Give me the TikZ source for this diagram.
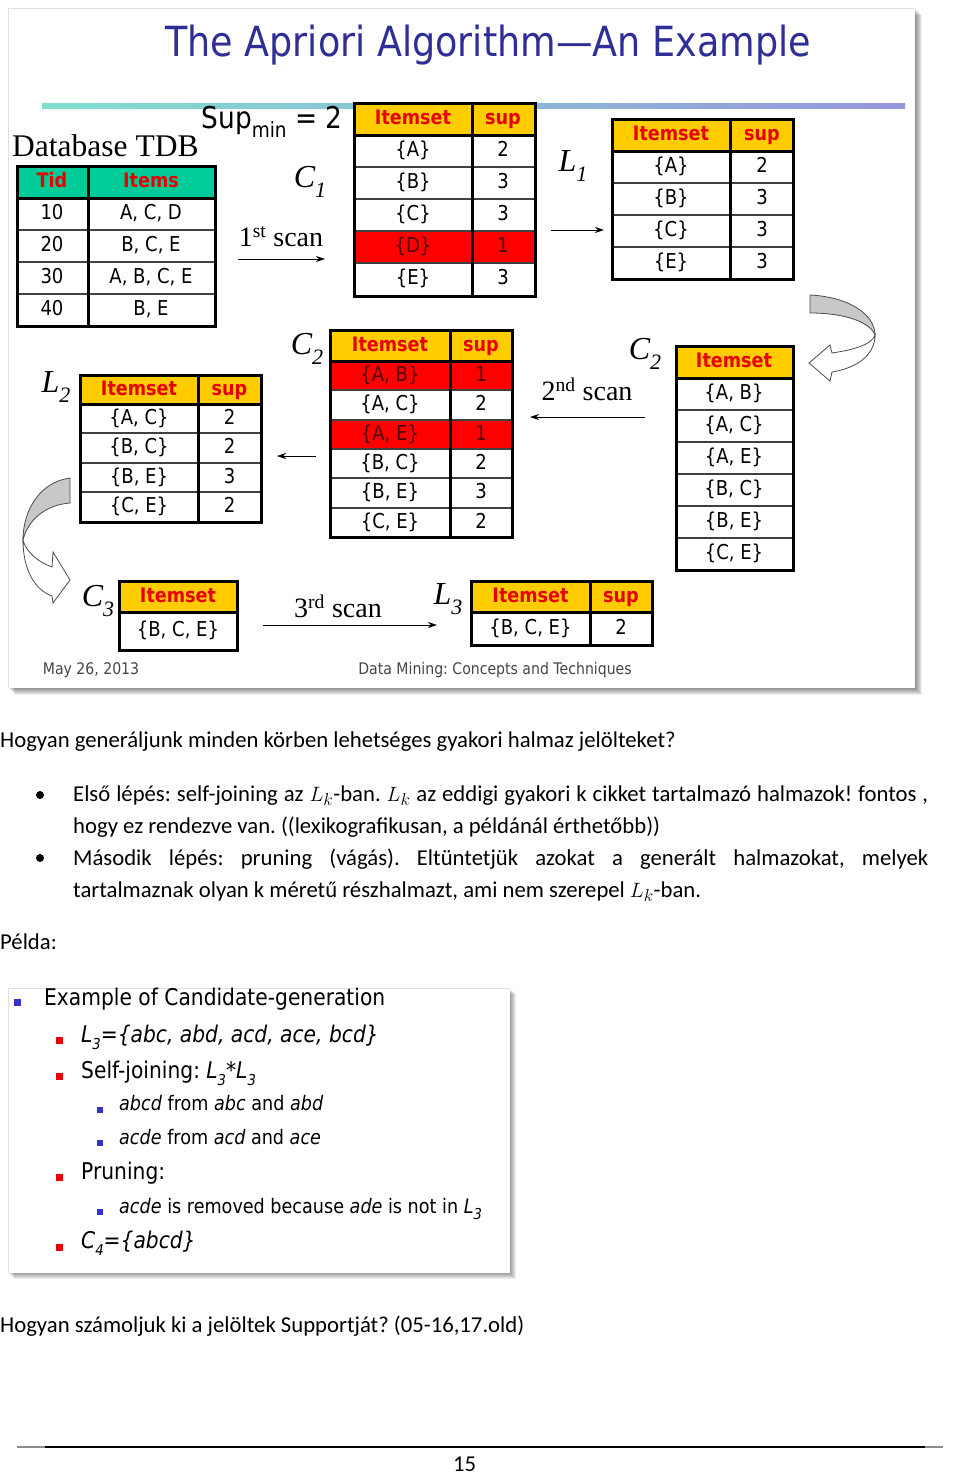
\documentclass[tikz,border=0pt]{standalone}
\usepackage{fontspec}
\setmainfont{Carlito}
\newfontfamily\slf[FakeStretch=0.88]{DejaVu Sans}
\newfontfamily\tnr{Liberation Serif}
\usetikzlibrary{arrows.meta}
\definecolor{titleblue}{RGB}{46,46,150}
\definecolor{gold}{RGB}{255,204,0}
\definecolor{tealhd}{RGB}{0,204,153}
\definecolor{hdred}{RGB}{230,0,0}
\definecolor{redrow}{RGB}{255,0,0}
\definecolor{redtxt}{RGB}{80,0,0}
\definecolor{bulblue}{RGB}{51,51,204}
\definecolor{bulred}{RGB}{230,0,0}
\definecolor{footgray}{RGB}{70,70,70}
\definecolor{linegl}{RGB}{128,224,208}
\definecolor{linegr}{RGB}{150,150,220}
\definecolor{arrowgray}{RGB}{200,200,200}
\newcommand\lab[2]{#1\raisebox{-0.32em}{\fontsize{22}{22}\selectfont #2}}
\newcommand\isub[1]{\raisebox{-0.3em}{\fontsize{15}{15}\selectfont #1}}
\frenchspacing
\tikzset{
 hdr/.style={font=\slf\bfseries\fontsize{20}{22}\selectfont, text=hdred, inner sep=0pt, text height=15pt, text depth=4pt},
 cellt/.style={font=\slf\fontsize{20.5}{22}\selectfont, inner sep=0pt, text height=15pt, text depth=4pt},
 redt/.style={cellt, text=redtxt},
 lbl/.style={font=\tnr\itshape\fontsize{32}{34}\selectfont, inner sep=0pt},
 scan/.style={font=\tnr\fontsize{28}{30}\selectfont, inner sep=0pt},
 thinrule/.style={line width=1.2pt, black!75},
 thickrule/.style={line width=3pt, black},
 scanarrow/.style={-{Stealth[length=9pt,width=6pt]}, line width=1pt},
 body/.style={font=\fontsize{22.7}{27}\selectfont\frenchspacing, inner sep=0pt, anchor=base west},
 s2/.style={font=\slf\fontsize{23}{26}\selectfont\frenchspacing, inner sep=0pt, anchor=mid west},
 s3/.style={font=\slf\fontsize{20}{24}\selectfont\frenchspacing, inner sep=0pt, anchor=mid west},
 foot/.style={font=\slf\fontsize{16}{18}\selectfont\frenchspacing, text=footgray, inner sep=0pt},
}
\begin{document}
\begin{tikzpicture}[x=1pt,y=-1pt]
\useasboundingbox (0,0) rectangle (960,1475);
\fill[white] (0,0) rectangle (960,1475);
% ---------- slide 1 frame ----------
\foreach \i in {1,...,7} \fill[black,opacity=0.07] (8+\i,8+\i) rectangle (915+\i,688+\i);
\fill[white] (8,8) rectangle (915,688);
\draw[black!12, line width=0.8pt] (8,688) -- (8,8) -- (915,8);
\node[font=\slf\fontsize{41.5}{45}\selectfont, text=titleblue, inner sep=0pt] (title) at (488,45) {The Apriori Algorithm—An Example};
\shade[left color=linegl, right color=linegr] (42,103) rectangle (905,108);
\node[font=\tnr\fontsize{31.5}{33}\selectfont, inner sep=0pt, anchor=west] (tdbl) at (12,146) {Database TDB};
\node[font=\slf\fontsize{30}{32}\selectfont, inner sep=0pt] (supmin) at (272,122) {Sup\raisebox{-0.3em}{\fontsize{21}{21}\selectfont min} = 2};
% ---------- TDB ----------
\fill[tealhd] (17,166) rectangle (215,198);
\foreach \y in {230,262,294} \draw[thinrule] (17,\y) -- (215,\y);
\draw[thickrule] (17,198) -- (215,198);
\draw[thickrule] (88,166) -- (88,326);
\draw[thickrule] (17,166) rectangle (215,326);
\node[hdr] (tdbh1) at (52,182) {Tid};
\node[hdr] (tdbh2) at (151,182) {Items};
\node[cellt] (tdb11) at (52,214) {10};  \node[cellt] (tdb12) at (151,214) {A, C, D};
\node[cellt] (tdb21) at (52,246) {20};  \node[cellt] (tdb22) at (151,246) {B, C, E};
\node[cellt] (tdb31) at (52,278) {30};  \node[cellt] (tdb32) at (151,278) {A, B, C, E};
\node[cellt] (tdb41) at (52,310) {40};  \node[cellt] (tdb42) at (151,310) {B, E};
% ---------- C1 ----------
\fill[gold] (354,103) rectangle (535,135);
\fill[redrow] (354,231) rectangle (535,263);
\foreach \y in {167,199,231,263} \draw[thinrule] (354,\y) -- (535,\y);
\draw[thickrule] (354,135) -- (535,135);
\draw[thickrule] (472,103) -- (472,296);
\draw[thickrule] (354,103) rectangle (535,296);
\node[hdr] (c1h1) at (413,119) {Itemset}; \node[hdr] (c1h2) at (503,119) {sup};
\node[cellt] (c1a) at (413,151) {\{A\}}; \node[cellt] (c1as) at (503,151) {2};
\node[cellt] (c1b) at (413,183) {\{B\}}; \node[cellt] (c1bs) at (503,183) {3};
\node[cellt] (c1c) at (413,215) {\{C\}}; \node[cellt] (c1cs) at (503,215) {3};
\node[redt] (c1d) at (413,247) {\{D\}}; \node[redt] (c1ds) at (503,247) {1};
\node[cellt] (c1e) at (413,279) {\{E\}}; \node[cellt] (c1es) at (503,279) {3};
\node[lbl] (c1l) at (310,182) {\lab{C}{1}};
\node[scan] (scan1) at (281,237) {1\textsuperscript{st} scan};
\coordinate (s1a) at (238,259); \coordinate (s1b) at (325,259);
\draw[scanarrow] (s1a) -- (s1b);
% ---------- L1 ----------
\fill[gold] (612,119) rectangle (793,151);
\foreach \y in {183,215,247} \draw[thinrule] (612,\y) -- (793,\y);
\draw[thickrule] (612,151) -- (793,151);
\draw[thickrule] (730,119) -- (730,279);
\draw[thickrule] (612,119) rectangle (793,279);
\node[hdr] (l1h1) at (671,135) {Itemset}; \node[hdr] (l1h2) at (762,135) {sup};
\node[cellt] (l1a) at (671,167) {\{A\}}; \node[cellt] (l1as) at (762,167) {2};
\node[cellt] (l1b) at (671,199) {\{B\}}; \node[cellt] (l1bs) at (762,199) {3};
\node[cellt] (l1c) at (671,231) {\{C\}}; \node[cellt] (l1cs) at (762,231) {3};
\node[cellt] (l1e) at (671,263) {\{E\}}; \node[cellt] (l1es) at (762,263) {3};
\node[lbl] (l1l) at (573,166) {\lab{L}{1}};
\coordinate (a1a) at (551,230); \coordinate (a1b) at (604,230);
\draw[scanarrow] (a1a) -- (a1b);
% ---------- right curved arrow ----------
\filldraw[fill=arrowgray, draw=black!70, line width=0.8pt] (810,295) .. controls (850,297) and (875,315) .. (875,335) .. controls (870,322) and (845,313) .. (810,313) -- cycle;
\filldraw[fill=white, draw=black!70, line width=0.8pt] (875,335) .. controls (875,355) and (857,368) .. (832,372) -- (830,381) -- (809,363) -- (830,345) -- (832,353) .. controls (852,350) and (872,345) .. (875,335) -- cycle;
% ---------- C2 right ----------
\fill[gold] (676,346) rectangle (793,378);
\foreach \y in {410,442,474,506,538} \draw[thinrule] (676,\y) -- (793,\y);
\draw[thickrule] (676,378) -- (793,378);
\draw[thickrule] (676,346) rectangle (793,570);
\node[hdr] (c2rh) at (734,362) {Itemset};
\node[cellt] (c2r1) at (734,394) {\{A, B\}};
\node[cellt] (c2r2) at (734,426) {\{A, C\}};
\node[cellt] (c2r3) at (734,458) {\{A, E\}};
\node[cellt] (c2r4) at (734,490) {\{B, C\}};
\node[cellt] (c2r5) at (734,522) {\{B, E\}};
\node[cellt] (c2r6) at (734,554) {\{C, E\}};
\node[lbl] (c2rl) at (645,354) {\lab{C}{2}};
\node[scan] (scan2) at (587,389) {2\textsuperscript{nd} scan};
\coordinate (s2a) at (645,417); \coordinate (s2b) at (530,417);
\draw[scanarrow] (s2a) -- (s2b);
% ---------- C2 left ----------
\fill[gold] (330,330) rectangle (512,361);
\fill[redrow] (330,361) rectangle (512,390);
\fill[redrow] (330,420) rectangle (512,449);
\foreach \y in {390,420,449,478,508} \draw[thinrule] (330,\y) -- (512,\y);
\draw[thickrule] (330,361) -- (512,361);
\draw[thickrule] (450,330) -- (450,537);
\draw[thickrule] (330,330) rectangle (512,537);
\node[hdr] (c2h1) at (390,345.5) {Itemset}; \node[hdr] (c2h2) at (481,345.5) {sup};
\node[redt] (c2a) at (390,375.5) {\{A, B\}}; \node[redt] (c2as) at (481,375.5) {1};
\node[cellt] (c2b) at (390,405) {\{A, C\}}; \node[cellt] (c2bs) at (481,405) {2};
\node[redt] (c2c) at (390,434.5) {\{A, E\}}; \node[redt] (c2cs) at (481,434.5) {1};
\node[cellt] (c2d) at (390,463.5) {\{B, C\}}; \node[cellt] (c2ds) at (481,463.5) {2};
\node[cellt] (c2e) at (390,493) {\{B, E\}}; \node[cellt] (c2es) at (481,493) {3};
\node[cellt] (c2f) at (390,522.5) {\{C, E\}}; \node[cellt] (c2fs) at (481,522.5) {2};
\node[lbl] (c2l) at (307,349) {\lab{C}{2}};
\coordinate (a2a) at (316,456); \coordinate (a2b) at (277,456);
\draw[scanarrow] (a2a) -- (a2b);
% ---------- L2 ----------
\fill[gold] (80,375) rectangle (261,404);
\foreach \y in {433,463,492} \draw[thinrule] (80,\y) -- (261,\y);
\draw[thickrule] (80,404) -- (261,404);
\draw[thickrule] (198,375) -- (198,522);
\draw[thickrule] (80,375) rectangle (261,522);
\node[hdr] (l2h1) at (139,389.5) {Itemset}; \node[hdr] (l2h2) at (229.5,389.5) {sup};
\node[cellt] (l2a) at (139,418.5) {\{A, C\}}; \node[cellt] (l2as) at (229.5,418.5) {2};
\node[cellt] (l2b) at (139,448) {\{B, C\}}; \node[cellt] (l2bs) at (229.5,448) {2};
\node[cellt] (l2c) at (139,477.5) {\{B, E\}}; \node[cellt] (l2cs) at (229.5,477.5) {3};
\node[cellt] (l2d) at (139,507) {\{C, E\}}; \node[cellt] (l2ds) at (229.5,507) {2};
\node[lbl] (l2l) at (56,387) {\lab{L}{2}};
% ---------- left curved arrow ----------
\filldraw[fill=arrowgray, draw=black!70, line width=0.8pt] (70,478) .. controls (40,482) and (23,510) .. (23,540) .. controls (28,520) and (45,505) .. (70,503) -- cycle;
\filldraw[fill=white, draw=black!70, line width=0.8pt] (23,540) .. controls (23,570) and (35,590) .. (52,596) -- (53,603) -- (70,580) -- (53,552) -- (52,567) .. controls (38,562) and (26,552) .. (23,540) -- cycle;
% ---------- C3 ----------
\fill[gold] (119,581) rectangle (237,612);
\draw[thickrule] (119,612) -- (237,612);
\draw[thickrule] (119,581) rectangle (237,650);
\node[hdr] (c3h) at (178,596.5) {Itemset};
\node[cellt] (c3a) at (178,631) {\{B, C, E\}};
\node[lbl] (c3l) at (98,601) {\lab{C}{3}};
\node[scan] (scan3) at (338,606) {3\textsuperscript{rd} scan};
\coordinate (s3a) at (263,625); \coordinate (s3b) at (437,625);
\draw[scanarrow] (s3a) -- (s3b);
% ---------- L3 ----------
\fill[gold] (471,581) rectangle (652,612);
\draw[thickrule] (471,612) -- (652,612);
\draw[thickrule] (590,581) -- (590,645);
\draw[thickrule] (471,581) rectangle (652,645);
\node[hdr] (l3h1) at (530.5,596.5) {Itemset}; \node[hdr] (l3h2) at (621,596.5) {sup};
\node[cellt] (l3a) at (530.5,628.5) {\{B, C, E\}}; \node[cellt] (l3as) at (621,628.5) {2};
\node[lbl] (l3l) at (448,599) {\lab{L}{3}};
% ---------- footer ----------
\node[foot] (date) at (91,670) {May 26, 2013};
\node[foot] (book) at (495,670) {Data Mining: Concepts and Techniques};
% ---------- body text ----------
\node[body] (q1) at (0,747) {Hogyan generáljunk minden körben lehetséges gyakori halmaz jelölteket?};
\fill (40,795) circle (4);
\node[body] (b1a) at (73,801) {\makebox[855pt][s]{Első lépés: self-joining az $L_k$-ban. $L_k$ az eddigi gyakori k cikket tartalmazó halmazok! fontos ,}};
\node[body] (b1b) at (73,833) {hogy ez rendezve van. ((lexikografikusan, a példánál érthetőbb))};
\fill (40,858) circle (4);
\node[body] (b2a) at (73,865) {\makebox[855pt][s]{Második lépés: pruning (vágás). Eltüntetjük azokat a generált halmazokat, melyek}};
\node[body] (b2b) at (73,897) {tartalmaznak olyan k méretű részhalmazt, ami nem szerepel $L_k$-ban.};
\node[body] (pelda) at (0,949) {Példa:};
% ---------- slide 2 ----------
\foreach \i in {1,...,6} \fill[black,opacity=0.07] (8+\i,988+\i) rectangle (510+\i,1273+\i);
\fill[white] (8,988) rectangle (510,1273);
\draw[black!12, line width=0.8pt] (8,1273) -- (8,988) -- (510,988);
\fill[bulblue] (14,999) rectangle (21,1006);
\node[s2] (e1) at (44,1003) {Example of Candidate-generation};
\fill[bulred] (56,1037) rectangle (63,1044);
\node[s2] (e2) at (81,1040) {\itshape L\isub{3}=\{abc, abd, acd, ace, bcd\}};
\fill[bulred] (56,1073) rectangle (63,1080);
\node[s2] (e3) at (81,1076) {Self-joining: {\itshape L\isub{3}*L\isub{3}}};
\fill[bulblue] (97,1107) rectangle (103,1113);
\node[s3] (e4) at (119,1108) {{\itshape abcd} from {\itshape abc} and {\itshape abd}};
\fill[bulblue] (97,1140) rectangle (103,1146);
\node[s3] (e5) at (119,1142) {{\itshape acde} from {\itshape acd} and {\itshape ace}};
\fill[bulred] (56,1174) rectangle (63,1181);
\node[s2] (e6) at (81,1177) {Pruning:};
\fill[bulblue] (97,1209) rectangle (103,1215);
\node[s3] (e7) at (119,1211) {{\itshape acde} is removed because {\itshape ade} is not in {\itshape L\isub{3}}};
\fill[bulred] (56,1244) rectangle (63,1251);
\node[s2] (e8) at (81,1246) {\itshape C\isub{4}=\{abcd\}};
% ---------- end ----------
\node[body] (q2) at (0,1332) {Hogyan számoljuk ki a jelöltek Supportját? (05-16,17.old)};
\draw[black!45, line width=2pt] (17,1447) -- (943,1447);
\draw[black, line width=2pt] (45,1447) -- (925,1447);
\node[body] (pg) at (453,1471) {15};
\end{tikzpicture}
\end{document}
